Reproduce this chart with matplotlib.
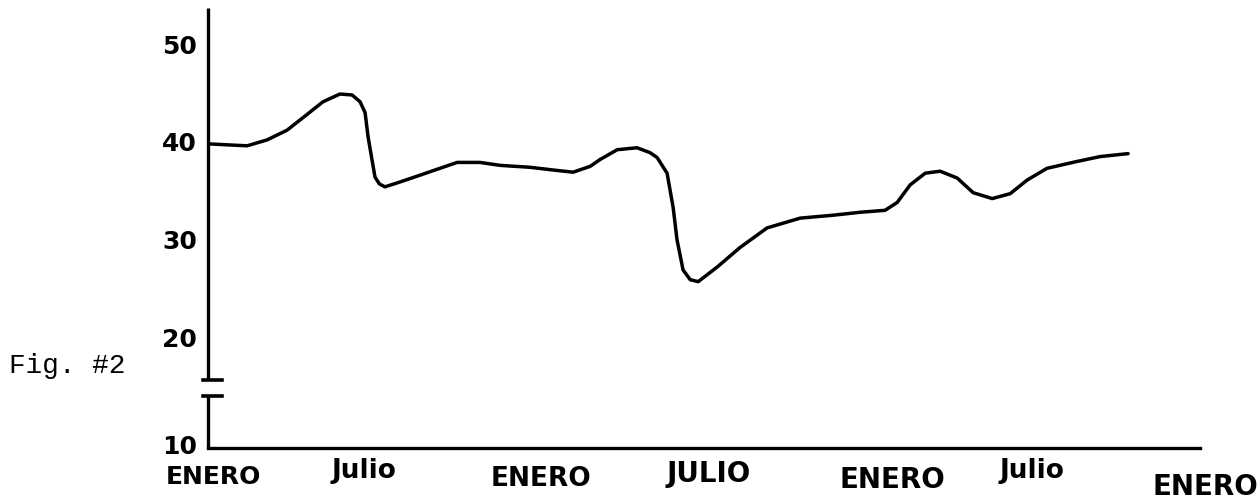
import numpy as np
import matplotlib
matplotlib.use("Agg")
import matplotlib.pyplot as plt

# maaneder fra forste januar, verdier lest av fra figuren
maaneder = [0.0, 0.69, 1.42, 2.14, 2.87, 3.59, 4.17, 4.79, 5.23, 5.52, 5.70, 5.81, 5.95, 6.06,
            6.22, 6.42, 6.97, 7.70, 8.42, 9.04, 9.87, 10.60, 11.69, 12.60, 13.25, 13.87, 14.23, 14.85,
            15.57, 16.04, 16.30, 16.66, 16.88, 17.02, 17.24, 17.50, 17.79, 18.48, 19.31, 20.29,
            21.49, 22.69, 23.67, 24.57, 25.01, 25.48, 26.03, 26.57, 27.19, 27.77, 28.46, 29.11,
            29.73, 30.45, 31.54, 32.38, 33.39]
verdier = [39.8, 39.7, 39.6, 40.2, 41.2, 42.8, 44.1, 44.9, 44.8, 44.1, 43.0, 40.5, 38.2, 36.4,
           35.7, 35.4, 35.9, 36.6, 37.3, 37.9, 37.9, 37.6, 37.4, 37.1, 36.9, 37.5, 38.2, 39.2,
           39.4, 38.9, 38.4, 36.8, 33.3, 30.0, 26.9, 25.9, 25.7, 27.2, 29.2, 31.2,
           32.2, 32.5, 32.8, 33.0, 33.8, 35.6, 36.8, 37.0, 36.3, 34.8, 34.2, 34.7,
           36.1, 37.3, 38.0, 38.5, 38.8]

y_ticks = [9.0, 20, 30, 40, 50]
y_labels = ["10", "20", "30", "40", "50"]
x_labels = ["ENERO", "Julio", "ENERO", "JULIO", "ENERO", "Julio", "ENERO"]

# plassering av tekst under aksen (haandskrevet, ikke helt jevnt)
x_label_pos = [0.18, 5.66, 12.09, 18.15, 24.83, 29.91, 36.19]
x_label_y = [-0.066, -0.052, -0.070, -0.059, -0.073, -0.052, -0.089]
x_label_size = [18, 19, 19, 20, 20, 19, 20]

fig = plt.figure(figsize=(12.6, 5.04), dpi=100)
ax = fig.add_axes([208/1260, 1 - 448/504, 992/1260, 440/504])

ax.plot(maaneder, verdier, color='black', lw=2.5, solid_joinstyle='round', solid_capstyle='round')

ax.set_xlim(0, 36)
ax.set_ylim(8.68, 53.7)

# akser, med brudd paa y-aksen
for s in ['top', 'right', 'left']:
    ax.spines[s].set_visible(False)
ax.spines['bottom'].set_linewidth(2.4)
ax.plot([0, 0], [15.64, 53.7], color='black', lw=2.4, clip_on=False, solid_capstyle='butt')
ax.plot([0, 0], [8.68, 14.0], color='black', lw=2.4, clip_on=False, solid_capstyle='butt')
ax.plot([-0.18, 0.51], [15.64, 15.64], color='black', lw=2.6, clip_on=False)
ax.plot([-0.18, 0.51], [14.0, 14.0], color='black', lw=2.6, clip_on=False)

ax.set_yticks(y_ticks)
ax.set_yticklabels(y_labels, fontsize=18, fontweight='bold')
ax.tick_params(axis='y', length=0, pad=8)
ax.set_xticks([])

trans = ax.get_xaxis_transform()
for i in range(len(x_labels)):
    ax.text(x_label_pos[i], x_label_y[i], x_labels[i], transform=trans, ha='center', va='center',
            fontsize=x_label_size[i], fontweight='bold', clip_on=False)

fig.text(67/1260, 1 - 366/504, "Fig. #2", ha='center', va='center', fontsize=20, family='Liberation Mono')

plt.savefig('out.png', dpi=100)
